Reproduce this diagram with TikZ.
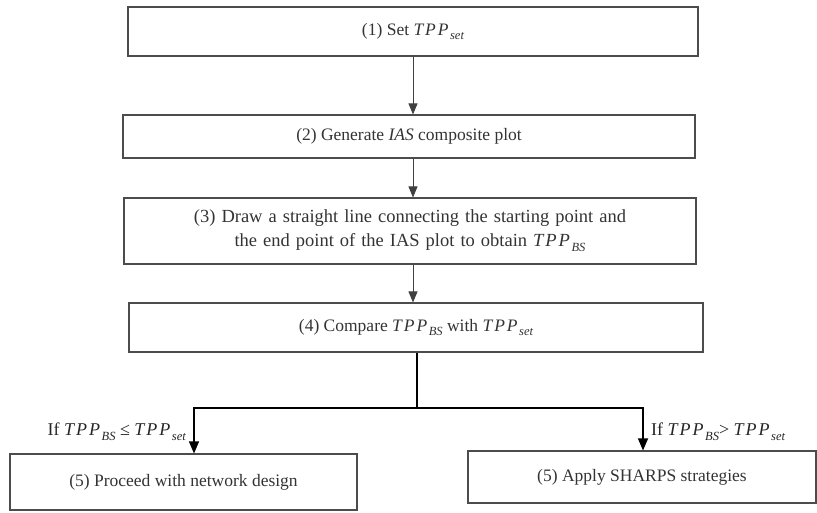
\documentclass[tikz,border=0pt]{standalone}
\usepackage{fontspec}
\setmainfont{Liberation Serif}
\usetikzlibrary{arrows.meta}

% lowered italic subscript and the spaced italic TPP symbol
\newcommand{\lowsub}[1]{\raisebox{-0.6ex}{\fontsize{12.5}{14}\selectfont\itshape #1}}
\newcommand{\tpp}[1]{\textit{T\kern2pt P\kern2pt P\kern1.5pt}\lowsub{#1}}
% slightly wider interword spacing for the two-line step
\newcommand{\widespaces}{\spaceskip=6pt plus 1pt minus 1pt\relax}

\begin{document}
\begin{tikzpicture}[x=1pt,y=-1pt,
  stepbox/.style={draw=black!70, line width=1.1pt, rectangle, inner sep=0pt,
    text=black!80, font=\fontsize{17.5}{22}\selectfont},
  flow/.style={draw=black!75, line width=0.8pt,
    -{Triangle[length=11pt,width=9pt]}},
  branch/.style={draw=black, line width=1.2pt,
    -{Triangle[length=12pt,width=10pt]}},
  cond/.style={text=black!85, font=\fontsize{18}{22}\selectfont, inner sep=0pt}]

\useasboundingbox (0,0) rectangle (817,512);

% main sequence of steps
\node[stepbox, minimum width=570pt, minimum height=49pt] (s1) at (413,31.5)
  {(1) Set \tpp{set}};
\node[stepbox, minimum width=572pt, minimum height=43pt] (s2) at (409,136.5)
  {(2) Generate \textit{IAS} composite plot};
\node[stepbox, minimum width=572pt, minimum height=66pt, align=center,
      font=\fontsize{18.5}{23}\selectfont\widespaces] (s3) at (410,231)
  {(3) Draw a straight line connecting the starting point and\\[1pt]
   the end point of the IAS plot to obtain \tpp{BS}};
\node[stepbox, minimum width=574pt, minimum height=49pt] (s4) at (416,327.5)
  {(4) Compare \tpp{BS} with \tpp{set}};

% outcomes
\node[stepbox, minimum width=347pt, minimum height=56pt] (s5a) at (183.5,482)
  {(5) Proceed with network design};
\node[stepbox, minimum width=348pt, minimum height=52pt] (s5b) at (642,477)
  {(5) Apply SHARPS strategies};

% connector axes
\coordinate (ax) at (413,0);
\coordinate (j) at (417,408);
\coordinate (lx) at (194,0);
\coordinate (rx) at (643,0);

\draw[flow] (s1.south -| ax) -- (s2.north -| ax);
\draw[flow] (s2.south -| ax) -- (s3.north -| ax);
\draw[flow] (s3.south -| ax) -- (s4.north -| ax);

\draw[black, line width=2pt] (s4.south -| j) -- (j);
\draw[branch] (j) -- (j -| lx) -- (s5a.north -| lx);
\draw[branch] (j) -- (j -| rx) -- (s5b.north -| rx);

% branch conditions
\node[cond, anchor=east] (c1) at (186,432) {If \tpp{BS} ≤ \tpp{set}};
\node[cond, anchor=west] (c2) at (651,432) {If \tpp{BS}> \tpp{set}};

\end{tikzpicture}
\end{document}
